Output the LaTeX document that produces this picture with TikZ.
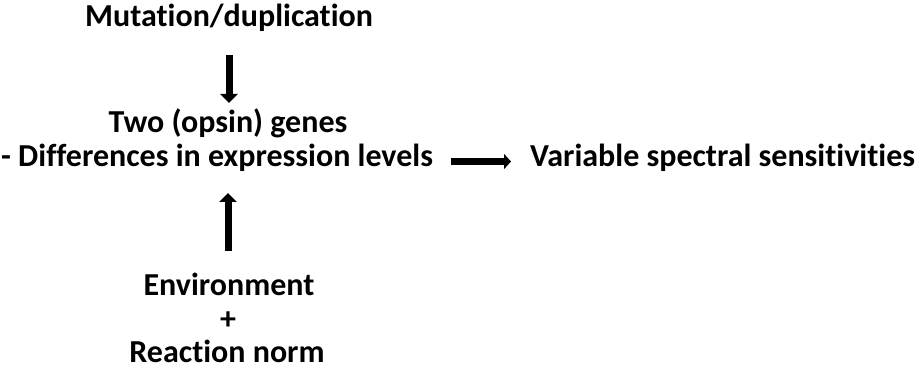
\documentclass[tikz,border=0pt]{standalone}
\usepackage{fontspec}
\setmainfont{Carlito}[Ligatures={NoCommon}]
\usetikzlibrary{arrows.meta}
\tikzset{
  lbl/.style={font=\bfseries\fontsize{32}{38}\selectfont, inner sep=0pt, text=black, anchor=base},
  bigarrow/.style={line width=7pt, -{Triangle[length=9pt,width=17pt]}},
  midarrow/.style={line width=7pt, -{Triangle[length=7pt,width=15pt]}}
}
\begin{document}
\begin{tikzpicture}[x=1pt,y=-1pt]
\useasboundingbox[fill=white] (0,0) rectangle (918,371);
\node[lbl] (mut) at (229,27) {Mutation/duplication};
\node[lbl] (two) at (228,133) {Two (opsin) genes};
\node[lbl, anchor=base west] (diff) at (1,167) {- Differences in expression levels};
\node[lbl, anchor=base west] (var) at (530,167) {Variable spectral sensitivities};
\node[lbl] (env) at (229,295) {Environment};
\node[lbl] (plus) at (228,329) {+};
\node[lbl] (rea) at (227,362) {Reaction norm};
\coordinate (d1) at (229,55);
\coordinate (d2) at (229,103);
\coordinate (u1) at (228,251);
\coordinate (u2) at (228,193);
\coordinate (r1) at (451,161.5);
\coordinate (r2) at (511,161.5);
\draw[bigarrow] (d1) -- (d2);
\draw[bigarrow] (u1) -- (u2);
\draw[midarrow] (r1) -- (r2);
\end{tikzpicture}
\end{document}
